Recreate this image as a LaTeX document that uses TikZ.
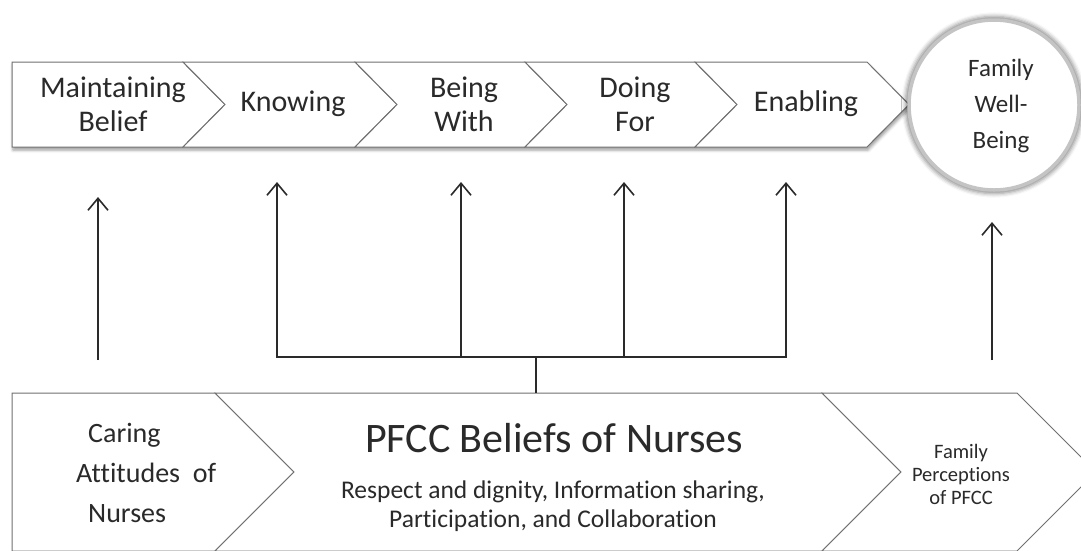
\documentclass[tikz,border=0pt]{standalone}
\usepackage{fontspec}
\setmainfont{Carlito}[Ligatures=CommonOff]
\usetikzlibrary{arrows.meta,shadows.blur}
\definecolor{ink}{HTML}{2A2A2A}
\definecolor{edge}{HTML}{707070}
\definecolor{ring}{HTML}{C4C4C4}
\begin{document}
\begin{tikzpicture}[x=1pt,y=-1pt,
  box/.style={draw=edge, line width=1pt, fill=white, line join=miter},
  lbl/.style={text=ink, align=center, inner sep=0pt},
  big/.style={font=\fontsize{30}{34}\selectfont},
  arr/.style={draw=ink, line width=1.5pt, -{Straight Barb[length=12pt,width=20pt,line width=1.6pt]}},
  wire/.style={draw=ink, line width=1.5pt}]
\useasboundingbox (0,0) rectangle (1081,550);
\clip (0,0) rectangle (1081,550);

% ---- top process row ----
\path[fill=white, blur shadow={shadow xshift=1pt, shadow yshift=-3pt, shadow blur radius=3pt, shadow opacity=40}]
  (12,62) -- (867,62) -- (909,104.5) -- (867,147) -- (12,147) -- cycle;
\path[box] (12,62) -- (183,62) -- (225,104.5) -- (183,147) -- (12,147) -- cycle;
\path[box] (183,62) -- (355,62) -- (397,104.5) -- (355,147) -- (183,147) -- (225,104.5) -- cycle;
\path[box] (355,62) -- (525,62) -- (567,104.5) -- (525,147) -- (355,147) -- (397,104.5) -- cycle;
\path[box] (525,62) -- (695,62) -- (737,104.5) -- (695,147) -- (525,147) -- (567,104.5) -- cycle;
\path[box] (695,62) -- (867,62) -- (909,104.5) -- (867,147) -- (695,147) -- (737,104.5) -- cycle;

\node[lbl,big] (maint) at (113,104) {Maintaining\\Belief};
\node[lbl,big] (know)  at (293,104) {Knowing};
\node[lbl,big] (being) at (464,104) {Being\\With};
\node[lbl,big] (doing) at (635,104) {Doing\\For};
\node[lbl,big] (enab)  at (806,104) {Enabling};

% ---- outcome circle ----
\path[fill=white, blur shadow={shadow xshift=0pt, shadow yshift=0pt, shadow blur radius=4pt, shadow opacity=45, shadow scale=1.03}]
  (994,105) circle (86);
\draw[draw=ring, line width=3.5pt, fill=white] (994,105) circle (85);
\node[lbl, font=\fontsize{25}{36}\selectfont] (well) at (1001,106) {Family\\Well-\\Being};

% ---- bottom row ----
\path[box] (12,393) -- (215,393) -- (294,472) -- (215,551) -- (12,551) -- cycle;
\path[box] (215,393) -- (822,393) -- (901,472) -- (822,551) -- (215,551) -- (294,472) -- cycle;
\path[box] (822,393) -- (1017,393) -- (1096,472) -- (1017,551) -- (822,551) -- (901,472) -- cycle;

\node[lbl, align=left, anchor=west, font=\fontsize{28}{40}\selectfont] (caring) at (76,473)
  {\hspace{12pt}Caring\\Attitudes\ \ of\\\hspace{12pt}Nurses};
\node[lbl, font=\fontsize{42}{44}\selectfont] (pfcc) at (554,438) {PFCC Beliefs of Nurses};
\node[lbl, font=\fontsize{25.5}{29}\selectfont] (values) at (553,506)
  {Respect and dignity, Information sharing,\\Participation, and Collaboration};
\node[lbl, font=\fontsize{20.5}{23}\selectfont] (percep) at (961,474) {Family\\Perceptions\\of PFCC};

% ---- connectors ----
\coordinate (s1) at (98,360);   \coordinate (t1) at (98,197);
\coordinate (s6) at (992,360);  \coordinate (t6) at (992,222);
\coordinate (j2) at (277,357);  \coordinate (t2) at (277,182);
\coordinate (j3) at (461,357);  \coordinate (t3) at (461,182);
\coordinate (j4) at (624,357);  \coordinate (t4) at (624,182);
\coordinate (j5) at (786,357);  \coordinate (t5) at (786,182);
\coordinate (hub) at (536,357); \coordinate (root) at (536,393);

\draw[arr] (s1) -- (t1);
\draw[arr] (s6) -- (t6);
\draw[arr] (j2) -- (t2);
\draw[arr] (j3) -- (t3);
\draw[arr] (j4) -- (t4);
\draw[arr] (j5) -- (t5);
\draw[wire, line cap=rect] (j2) -- (j5);
\draw[wire] (root) -- (hub);
\end{tikzpicture}
\end{document}
